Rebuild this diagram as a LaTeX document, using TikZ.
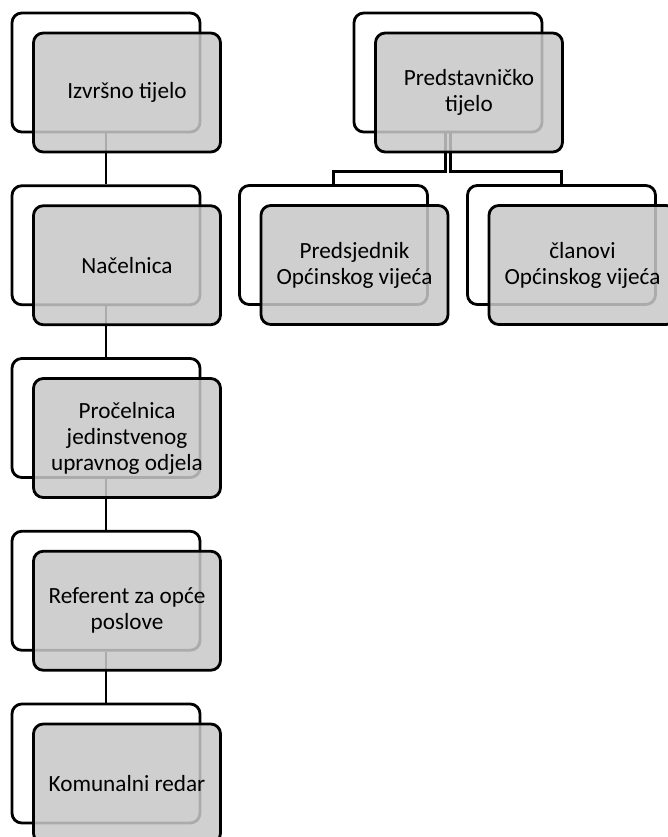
\documentclass[tikz,border=0pt]{standalone}
\usepackage{fontspec}
\setmainfont{Carlito}
\usetikzlibrary{positioning,calc}
\definecolor{boxgray}{RGB}{200,200,200}
\tikzset{%
  back/.style={draw, line width=2pt, rounded corners=7pt, fill=white,
    minimum width=4.7cm, minimum height=2.975cm, inner sep=0pt},
  front/.style={draw, line width=2pt, rounded corners=7pt, fill=boxgray,
    fill opacity=.86, text opacity=1, minimum width=4.675cm,
    minimum height=2.975cm, inner sep=0pt, align=center,
    font=\fontsize{16.5}{18.5}\selectfont},
  link/.style={draw, line width=2pt}
}

\begin{document}
\begin{tikzpicture}[x=0.025cm, y=-0.025cm]
  \clip (0,0) rectangle (668,837);
  % zadnje kutije
  \foreach \y [count=\i] in {72.5,245.25,418,590.75,763.5}{%
    \node [back] (b\i) at (106,\y) {};
  }
  \node [back] (pb) at (448,72.5) {};
  \node [back] (c1b) at (333.5,245) {};
  \node [back] (c2b) at (561.5,245) {};
  % veze
  \foreach \i [count=\j from 2] in {1,...,4}{%
    \draw [link] (b\i.south) -- (b\j.north);
  }
  \draw [link] ([xshift=-1.5pt]pb.south) -- ++(0,38) -| (c1b.north);
  \draw [link] ([xshift=1.5pt]pb.south) -- ++(0,38) -| (c2b.north);
  % prednje kutije
  \foreach \txt [count=\i] in {Izvršno tijelo, Načelnica,
    {Pročelnica\\jedinstvenog\\upravnog odjela},
    {Referent za opće\\poslove}, Komunalni redar}{%
    \node [front] (f\i) at ([shift={(21,20)}]b\i.center) {\txt};
  }
  \node [front] (pf) at ([shift={(21,20)}]pb.center) {Predstavničko\\tijelo};
  \node [front] (c1f) at ([shift={(21,20)}]c1b.center) {Predsjednik\\Općinskog vijeća};
  \node [front] (c2f) at ([shift={(21,20)}]c2b.center) {članovi\\Općinskog vijeća};
\end{tikzpicture}
\end{document}
